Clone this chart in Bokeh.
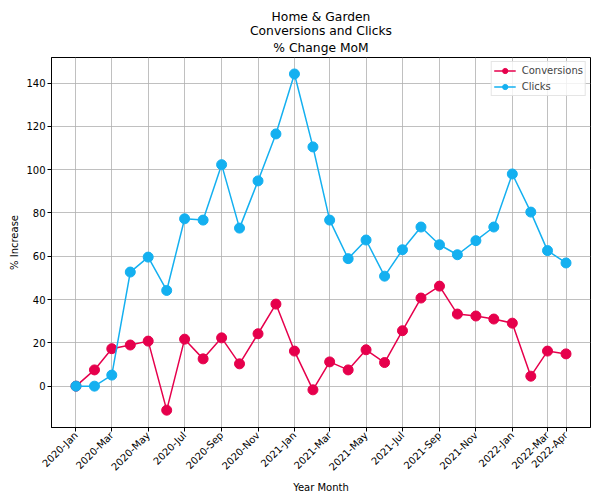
import math
import pandas as pd
from bokeh.plotting import figure
from bokeh.models import (FixedTicker, DatetimeTickFormatter, Legend,
                          LegendItem, Range1d, Title)
from bokeh.embed import file_html
from bokeh.resources import INLINE

months = ["2020-01", "2020-02", "2020-03", "2020-04", "2020-05", "2020-06",
          "2020-07", "2020-08", "2020-09", "2020-10", "2020-11", "2020-12",
          "2021-01", "2021-02", "2021-03", "2021-04", "2021-05", "2021-06",
          "2021-07", "2021-08", "2021-09", "2021-10", "2021-11", "2021-12",
          "2022-01", "2022-02", "2022-03", "2022-04"]
conversions = [0.0, 7.5, 17.3, 19.0, 20.8, -11.1, 21.7, 12.6, 22.3,
               10.3, 24.2, 37.9, 16.2, -1.7, 11.2, 7.5, 16.8, 10.9,
               25.6, 40.7, 46.2, 33.3, 32.4, 31.0, 29.1, 4.6, 16.2, 14.9]
clicks = [0.0, 0.0, 5.1, 52.7, 59.6, 44.2, 77.3, 76.7, 102.3,
          73.0, 94.8, 116.5, 144.2, 110.5, 76.7, 58.9, 67.5, 50.8,
          63.0, 73.5, 65.3, 60.7, 67.2, 73.5, 98.0, 80.4, 62.6, 56.9]
tick_months = ["2020-01", "2020-03", "2020-05", "2020-07", "2020-09", "2020-11",
               "2021-01", "2021-03", "2021-05", "2021-07", "2021-09", "2021-11",
               "2022-01", "2022-03", "2022-04"]
y_ticks = [0, 20, 40, 60, 80, 100, 120, 140]
title_lines = ["Home & Garden", "Conversions and Clicks", "% Change MoM"]

FONT = "DejaVu Sans"
CONV_COLOR = "#e6004c"
CLICK_COLOR = "#14b0f0"

dates = pd.to_datetime(months)
tick_dates = pd.to_datetime(tick_months)
pad = pd.Timedelta(days=41)

p = figure(width=600, height=500, x_axis_type="datetime",
           x_range=Range1d(dates[0] - pad, dates[-1] + pad),
           y_range=Range1d(-19.1, 151.8),
           output_backend="svg", toolbar_location=None,
           min_border_left=51, min_border_right=10,
           min_border_top=57, min_border_bottom=73)

p.background_fill_color = "white"
p.border_fill_color = "white"
p.outline_line_color = "black"
p.outline_line_width = 1


def style_title(t, standoff):
    t.align = "center"
    t.text_font = FONT
    t.text_font_size = "12.3px"
    t.text_font_style = "normal"
    t.text_color = "black"
    t.standoff = standoff


# p.title is the outermost line; added titles stack from the plot outward
p.title.text = title_lines[0]
style_title(p.title, -1.5)
for txt, so in [(title_lines[2], 5.5), (title_lines[1], -4)]:
    t = Title(text=txt)
    style_title(t, so)
    p.add_layout(t, "above")

line_conv = p.line(dates, conversions, line_color=CONV_COLOR, line_width=1.5)
sc_conv = p.scatter(dates, conversions, size=10, fill_color=CONV_COLOR,
                    line_color=CONV_COLOR)
line_clk = p.line(dates, clicks, line_color=CLICK_COLOR, line_width=1.5)
sc_clk = p.scatter(dates, clicks, size=10, fill_color=CLICK_COLOR,
                   line_color=CLICK_COLOR)

xt = [d.timestamp() * 1000 for d in tick_dates]
p.xaxis.ticker = FixedTicker(ticks=xt)
fmt = "%Y-%b"
p.xaxis.formatter = DatetimeTickFormatter(
    years=fmt, months=fmt, days=fmt, hours=fmt, hourmin=fmt, minutes=fmt,
    minsec=fmt, seconds=fmt, milliseconds=fmt, microseconds=fmt)
p.xaxis.major_label_orientation = math.pi / 4
p.yaxis.ticker = FixedTicker(ticks=y_ticks)

p.xaxis.axis_label = "Year Month"
p.yaxis.axis_label = "% Increase"
for ax in (p.xaxis, p.yaxis):
    ax.axis_label_text_font = FONT
    ax.axis_label_text_font_size = "10px"
    ax.axis_label_text_font_style = "normal"
    ax.axis_label_text_color = "black"
    ax.major_label_text_font = FONT
    ax.major_label_text_font_size = "10px"
    ax.major_label_text_color = "black"
    ax.axis_line_color = "black"
    ax.major_tick_line_color = "black"
    ax.major_tick_out = 4
    ax.major_tick_in = 0
    ax.minor_tick_line_color = None
    ax.major_label_standoff = 2
    ax.axis_label_standoff = 3

p.grid.grid_line_color = "#b0b0b0"
p.grid.grid_line_width = 0.8

legend = Legend(items=[
    LegendItem(label="Conversions", renderers=[line_conv, sc_conv]),
    LegendItem(label="Clicks", renderers=[line_clk, sc_clk]),
], location="top_right")
legend.label_text_font = FONT
legend.label_text_font_size = "10px"
legend.glyph_width = 22
legend.glyph_height = 13
legend.label_standoff = 6
legend.spacing = 3
legend.padding = 2
legend.margin = 4
legend.border_line_color = "#cccccc"
legend.background_fill_alpha = 0.8
legend.label_height = 13
p.add_layout(legend)

open("out.html", "w").write(file_html(p, INLINE))
